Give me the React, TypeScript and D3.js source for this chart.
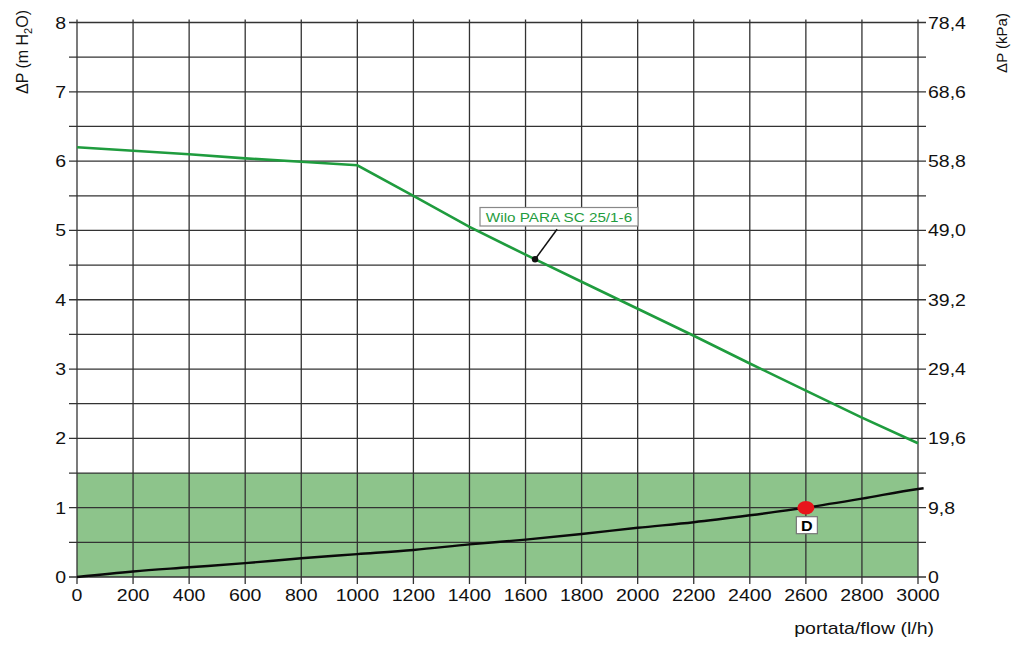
import React, { useRef, useEffect } from 'react'
import * as d3 from 'd3'

// pump curve (Wilo PARA SC 25/1-6), flow l/h -> head m H2O
const pumpFlow = [0, 200, 400, 600, 800, 1000, 1200, 1400, 1600, 1800, 2000, 2200, 2400, 2600, 2800, 3000]
const pumpHead = [6.2, 6.15, 6.1, 6.04, 5.99, 5.94, 5.5, 5.05, 4.65, 4.26, 3.87, 3.48, 3.08, 2.69, 2.3, 1.93]

// circuit curve
const sysFlow = [0, 200, 400, 600, 800, 1000, 1200, 1400, 1600, 1800, 2000, 2200, 2400, 2600, 2800, 3000, 3020]
const sysHead = [0, 0.08, 0.14, 0.2, 0.27, 0.33, 0.39, 0.47, 0.54, 0.62, 0.71, 0.79, 0.89, 1.0, 1.13, 1.27, 1.28]

const xTicks = d3.range(0, 3001, 200)
const yTicks = [0, 1, 2, 3, 4, 5, 6, 7, 8]
const kpaLabels = ['0', '9,8', '19,6', '29,4', '39,2', '49,0', '58,8', '68,6', '78,4']
const bandTop = 1.5
const duty = { flow: 2600, head: 1.0, label: 'D' }
const pumpLabel = 'Wilo PARA SC 25/1-6'
const pumpLabelAt = 1634

const App: React.FC = () => {
  const ref = useRef<SVGSVGElement>(null)

  useEffect(() => {
    if (!ref.current) return
    const svg = d3.select(ref.current)
    svg.selectAll('*').remove()

    const width = 1024
    const height = 650
    const m = { left: 77, right: 106, top: 22.5, bottom: 73 }
    const font = '"Liberation Sans", Arial, sans-serif'
    const stretch = 1.22

    const x = d3.scaleLinear().domain([0, 3000]).range([m.left, width - m.right])
    const y = d3.scaleLinear().domain([0, 8]).range([height - m.bottom, m.top])

    svg.append('rect').attr('width', width).attr('height', height).attr('fill', '#fff')

    // green band
    svg.append('rect')
      .attr('x', x(0)).attr('y', y(bandTop))
      .attr('width', x(3000) - x(0)).attr('height', y(0) - y(bandTop))
      .attr('fill', '#8dc48b')

    // grid
    const grid = svg.append('g').attr('stroke', '#333').attr('stroke-width', 1.3)
    grid.selectAll('line.h')
      .data(d3.range(0, 8.01, 0.5))
      .join('line')
      .attr('x1', x(0) - 8).attr('x2', x(3000) + 8)
      .attr('y1', d => y(d)).attr('y2', d => y(d))
    grid.selectAll('line.v')
      .data(xTicks)
      .join('line')
      .attr('x1', d => x(d)).attr('x2', d => x(d))
      .attr('y1', y(8) - 3).attr('y2', y(0) + 7)

    const stretched = (g: d3.Selection<any, any, any, any>, tx: number, ty: number, txt: string, anchor: string, size: number) => {
      g.append('g').attr('transform', `translate(${tx},${ty})`)
        .append('text')
        .attr('transform', `scale(${stretch},1)`)
        .attr('text-anchor', anchor)
        .style('font-family', font)
        .style('font-size', `${size}px`)
        .attr('fill', '#111')
        .text(txt)
    }

    const labels = svg.append('g')
    yTicks.forEach((t, i) => {
      stretched(labels, 66, y(t) + 6, String(t), 'end', 16)
      stretched(labels, 928, y(t) + 6, kpaLabels[i], 'start', 16)
    })
    xTicks.forEach(t => stretched(labels, x(t), 601, String(t), 'middle', 16))
    stretched(labels, 934, 634, 'portata/flow (l/h)', 'end', 16)

    // axis titles
    const lt = svg.append('text')
      .attr('transform', 'translate(28,52) rotate(-90)')
      .attr('text-anchor', 'middle')
      .style('font-family', font).style('font-size', '16px').attr('fill', '#111')
    lt.append('tspan').text('ΔP (m H')
    lt.append('tspan').attr('dy', 4).style('font-size', '11px').text('2')
    lt.append('tspan').attr('dy', -4).text('O)')

    svg.append('text')
      .attr('transform', 'translate(1007,43) rotate(-90)')
      .attr('text-anchor', 'middle')
      .style('font-family', font).style('font-size', '15px').attr('fill', '#111')
      .text('ΔP (kPa)')

    // curves
    const pumpLine = d3.line<number>().x((d, i) => x(pumpFlow[i])).y(d => y(d))
    svg.append('path')
      .attr('d', pumpLine(pumpHead))
      .attr('fill', 'none').attr('stroke', '#1f9c3e').attr('stroke-width', 2.6)

    const sysLine = d3.line<number>().x((d, i) => x(sysFlow[i])).y(d => y(d)).curve(d3.curveMonotoneX)
    svg.append('path')
      .attr('d', sysLine(sysHead))
      .attr('fill', 'none').attr('stroke', '#0a0a0a').attr('stroke-width', 2.4)

    // pump label callout
    const interp = d3.scaleLinear().domain(pumpFlow).range(pumpHead)
    const px = x(pumpLabelAt)
    const py = y(interp(pumpLabelAt))
    svg.append('line')
      .attr('x1', px).attr('y1', py).attr('x2', px + 22).attr('y2', py - 30)
      .attr('stroke', '#111').attr('stroke-width', 1.5)
    svg.append('circle').attr('cx', px).attr('cy', py).attr('r', 3.2).attr('fill', '#111')
    svg.append('rect')
      .attr('x', 480).attr('y', 207.5).attr('width', 158).attr('height', 18.5)
      .attr('fill', '#fff').attr('stroke', '#888').attr('stroke-width', 1.2)
    svg.append('g').attr('transform', 'translate(559,221.5)')
      .append('text')
      .attr('transform', `scale(${stretch},1)`)
      .attr('text-anchor', 'middle')
      .style('font-family', font).style('font-size', '12.5px')
      .attr('fill', '#1f9c3e')
      .text(pumpLabel)

    // duty point
    const dx = x(duty.flow)
    const dy = y(duty.head)
    svg.append('ellipse').attr('cx', dx).attr('cy', dy).attr('rx', 8.5).attr('ry', 6.8).attr('fill', '#e8141b')
    svg.append('rect')
      .attr('x', dx - 9.5).attr('y', dy + 9).attr('width', 21).attr('height', 17)
      .attr('fill', '#fff').attr('stroke', '#777').attr('stroke-width', 1.2)
    svg.append('g').attr('transform', `translate(${dx + 1},${dy + 23})`)
      .append('text')
      .attr('transform', `scale(1.15,1)`)
      .attr('text-anchor', 'middle')
      .style('font-family', font).style('font-size', '14px').style('font-weight', 'bold')
      .attr('fill', '#000')
      .text(duty.label)
  }, [])

  return (
    <svg ref={ref} width={1024} height={650} style={{ position: 'absolute', left: 0, top: 0 }} />
  )
}

export default App
